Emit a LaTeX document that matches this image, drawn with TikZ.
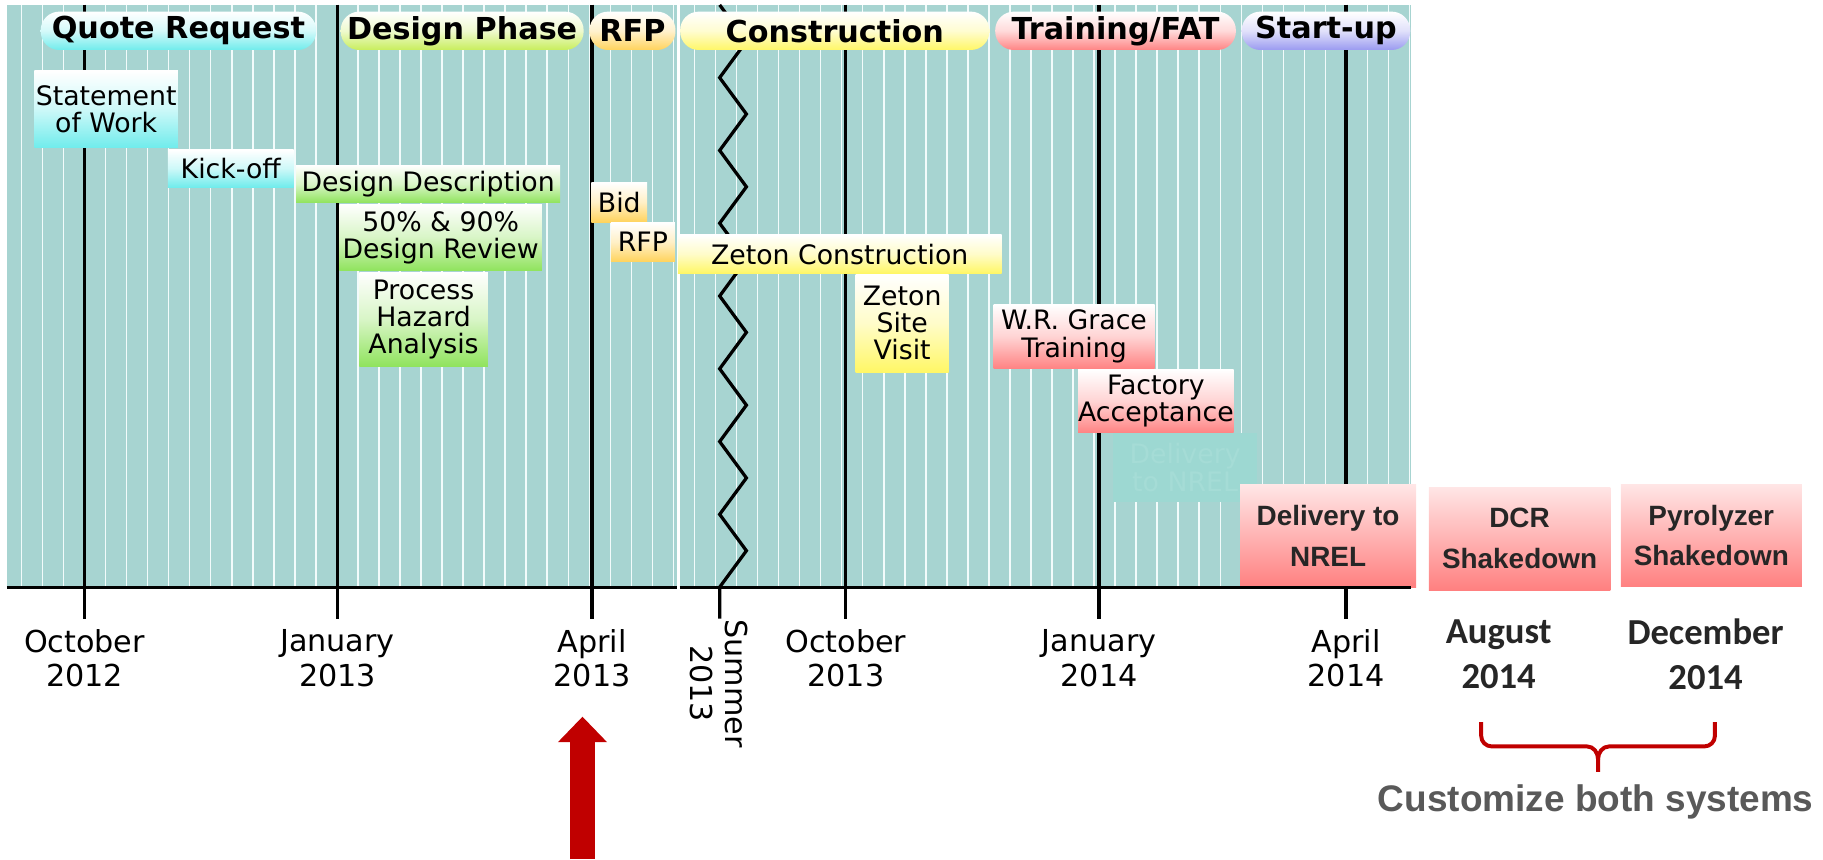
\documentclass[tikz,border=0pt]{standalone}
\usepackage{fontspec}
\setmainfont{DejaVu Sans}
\newfontfamily\arialfont{Liberation Sans}
\newfontfamily\calibfont{Carlito}
\usetikzlibrary{arrows.meta}
\definecolor{panelbg}{HTML}{A7D4D1}
\definecolor{stripecol}{HTML}{F2FBFB}
\definecolor{cyanb}{HTML}{70ECEC}
\definecolor{greenh}{HTML}{C8EE5C}
\definecolor{greenb}{HTML}{8FE35C}
\definecolor{goldb}{HTML}{FFD35C}
\definecolor{yellowb}{HTML}{FFF766}
\definecolor{redb}{HTML}{FF8484}
\definecolor{blueb}{HTML}{9A9AF0}
\definecolor{pinkt}{HTML}{FFE6E6}
\definecolor{pinkb}{HTML}{FF8080}
\definecolor{darkred}{HTML}{C00000}
\definecolor{txtgrey}{HTML}{595959}
\definecolor{txtdark}{HTML}{262626}
\definecolor{fadebox}{HTML}{9DD8D2}
\definecolor{fadetxt}{HTML}{A5DCD6}
\tikzset{
	sz/.style 2 args={minimum width=#1*0.5pt,minimum height=#2*0.5pt},
	phase/.style={rounded corners=8pt,inner sep=0pt,top color=white,bottom color=#1,middle color=#1!30,font=\fontsize{13}{15}\selectfont\bfseries},
	task/.style={inner sep=0pt,top color=white,bottom color=#1,middle color=#1!35,align=center,font=\fontsize{11.5}{11.75}\selectfont},
	ship/.style={inner sep=0pt,top color=pinkt,bottom color=pinkb,align=center,text=txtdark,font=\arialfont\bfseries\fontsize{12}{17.5}\selectfont},
	month/.style={align=center,font=\fontsize{13}{14.75}\selectfont},
	due/.style={align=center,text=txtdark,font=\calibfont\bfseries\fontsize{15.75}{19.4}\selectfont},
	stripe/.style={stripecol,line width=0.65pt},
	mline/.style={line width=1.4pt},
	bracket/.style={darkred,line width=1.7pt,line join=round},
	pointer/.style={darkred,line width=11pt,-{Triangle[width=20.5pt,length=11pt]}}
}
\begin{document}
\begin{tikzpicture}[x=0.5pt,y=-0.5pt]
	\useasboundingbox (0,0) rectangle (1568,739);
	\fill[panelbg] (6,4) rectangle (582,505);
	\fill[panelbg] (584.5,4) rectangle (1214,505);
	\foreach \k in {-3,...,63}
		\draw[stripe] ({72.7+18.09*\k},4) -- ({72.7+18.09*\k},505);
	\foreach \x in {72.7,290.3,509.2,727.5,945.3,1157.8}
		\draw[mline] (\x,4) -- (\x,532);
	\draw[mline,line join=miter] (619,532) -- (619,505) \foreach \k in {1,...,16} {-- ({619+23*mod(\k,2)},{505-31.3*\k})};
	
	\node[phase=cyanb,sz={237}{33}] (quote) at (153.5,26.5) {Quote Request};
	\node[phase=greenh,sz={209}{33}] (design) at (397.5,26.5) {Design Phase};
	\node[phase=goldb,sz={74}{33}] (rfphase) at (544,26.5) {RFP};
	\node[phase=yellowb,sz={266}{33}] (constr) at (718,26.5) {Construction};
	\node[phase=redb,sz={207}{33}] (training) at (959.5,26.5) {Training/FAT};
	\node[phase=blueb,sz={145}{33}] (startup) at (1140.5,26.5) {Start-up};
	
	\node[task=cyanb,sz={123.4}{66}] (sow) at (91.3,94) {Statement\\of Work};
	\node[task=cyanb,sz={108.3}{32}] (kickoff) at (198.5,145) {Kick-off};
	\node[task=greenb,sz={227}{32.5}] (desc) at (368.3,158.3) {Design Description};
	\node[task=greenb,sz={174}{57.5}] (review) at (379,204.3) {50\% \& 90\%\\Design Review};
	\node[task=greenb,sz={110.5}{81.5}] (hazard) at (364.3,274.8) {Process\\Hazard\\Analysis};
	\node[task=goldb,sz={48}{34}] (bid) at (532.7,174) {Bid};
	\node[task=goldb,sz={55}{33.5}] (rfp) at (553,208.3) {RFP};
	\node[task=yellowb,sz={278.5}{33}] (zeton) at (722.3,218.5) {Zeton Construction};
	\node[task=yellowb,sz={80}{84.3}] (visit) at (776,277.9) {Zeton\\Site\\Visit};
	\node[task=redb,sz={138.4}{54.5}] (grace) at (923.8,289.3) {W.R. Grace\\Training};
	\node[task=redb,sz={130.4}{54}] (fat) at (994.2,345) {Factory\\Acceptance};
	\node[fill=fadebox,inner sep=0pt,sz={123.5}{59},align=center,text=fadetxt,font=\fontsize{11.5}{11.75}\selectfont] (ghost) at (1019.3,402) {Delivery\\to NREL};
	
	\node[ship,sz={151.4}{88}] (deliver) at (1142.3,461) {Delivery to\\NREL};
	\node[ship,sz={156}{88.5}] (dcr) at (1307,463.3) {DCR\\Shakedown};
	\node[ship,sz={155.7}{88.3}] (pyro) at (1471.9,460.5) {Pyrolyzer\\Shakedown};
	
	\draw[line width=1.3pt] (6,505.5) -- (582,505.5);
	\draw[line width=1.3pt] (584.5,505.5) -- (1214,505.5);
	
	\node[month] (oct12) at (72.7,566) {October\\2012};
	\node[month] (jan13) at (290.3,566) {January\\2013};
	\node[month] (apr13) at (509.2,566) {April\\2013};
	\node[month,rotate=-90] (sum13) at (618.5,588) {Summer\\2013};
	\node[month] (oct13) at (727.5,566) {October\\2013};
	\node[month] (jan14) at (945.3,566) {January\\2014};
	\node[month] (apr14) at (1157.8,566) {April\\2014};
	\node[due] (aug14) at (1289,562.4) {August\\2014};
	\node[due] (dec14) at (1467,562.4) {December\\2014};
	
	\draw[bracket] (1274,621) -- (1274,633) to[out=-90,in=180] (1283,642) -- (1365,642) to[out=0,in=90] (1374.5,653) -- (1374.5,664);
	\draw[bracket] (1374.5,653) to[out=90,in=180] (1384,642) -- (1466,642) to[out=0,in=-90] (1475,633) -- (1475,621);
	\node[anchor=base,text=txtgrey,font=\arialfont\bfseries\fontsize{15.9}{18}\selectfont] (custom) at (1372.5,698) {Customize both systems};
	
	\coordinate (arrowfoot) at (501,739);
	\coordinate (arrowtip) at (501,616.4);
	\draw[pointer] (arrowfoot) -- (arrowtip);
\end{tikzpicture}
\end{document}
